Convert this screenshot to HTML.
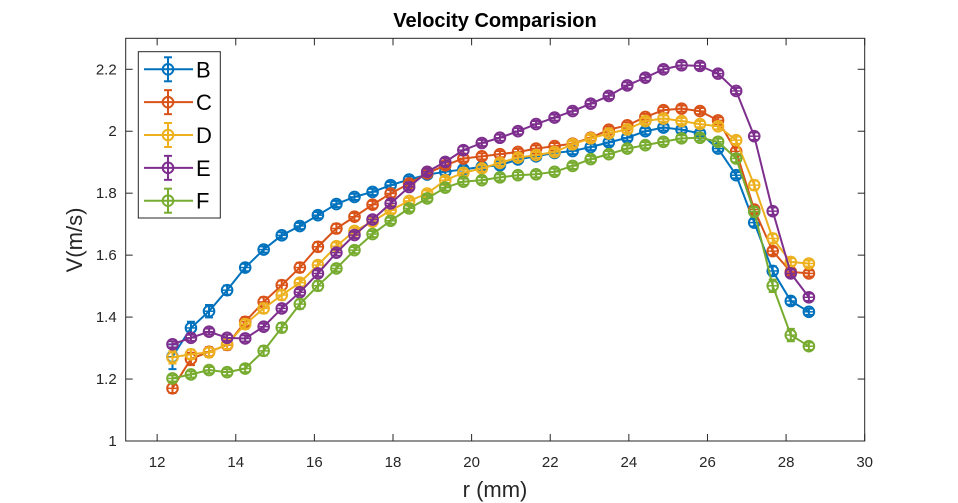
<!DOCTYPE html>
<html><head><meta charset="utf-8"><style>
html,body{margin:0;padding:0;background:#fff;}
svg{display:block;font-family:"Liberation Sans",Arial,sans-serif;}
</style></head><body>
<svg id="chart" width="958" height="503" viewBox="0 0 958 503" xmlns="http://www.w3.org/2000/svg">
<rect x="0" y="0" width="958" height="503" fill="#fff"/>
<text x="495" y="27" text-anchor="middle" font-size="20" font-weight="bold" fill="#000">Velocity Comparision</text>
<text x="495" y="497" text-anchor="middle" font-size="22" fill="#262626">r (mm)</text>
<text transform="translate(82,240) rotate(-90)" text-anchor="middle" font-size="22" fill="#262626">V(m/s)</text>
<g id="grid"></g>
<g id="series"></g>
<g id="legend"></g>
</svg>
<script>
const xMin = 11.2, xMax = 30, yMin = 1, yMax = 2.3;
const xTicks = [12,14,16,18,20,22,24,26,28,30];
const yTicks = [1,1.2,1.4,1.6,1.8,2,2.2];
const yTickLabels = ["1","1.2","1.4","1.6","1.8","2","2.2"];
const seriesNames = ["B","C","D","E","F"];
const seriesColors = ["#0072BD","#D95319","#EDB120","#7E2F8E","#77AC30"];
const rValues = [12.39,12.86,13.32,13.78,14.24,14.71,15.17,15.63,16.09,16.56,17.02,17.48,17.94,18.41,18.87,19.33,19.79,20.26,20.72,21.18,21.64,22.11,22.57,23.03,23.49,23.96,24.42,24.88,25.34,25.81,26.27,26.73,27.19,27.66,28.12,28.58];
const seriesB = [1.272,1.365,1.419,1.487,1.560,1.618,1.664,1.694,1.729,1.765,1.788,1.804,1.826,1.844,1.860,1.869,1.877,1.885,1.890,1.909,1.919,1.930,1.936,1.949,1.964,1.979,2.000,2.012,2.005,1.993,1.944,1.858,1.705,1.549,1.452,1.417];
const seriesC = [1.170,1.265,1.288,1.310,1.385,1.449,1.503,1.560,1.627,1.686,1.724,1.763,1.799,1.831,1.864,1.890,1.912,1.919,1.926,1.933,1.944,1.952,1.960,1.979,2.005,2.019,2.046,2.068,2.073,2.065,2.035,1.935,1.747,1.613,1.546,1.541];
const seriesD = [1.270,1.280,1.286,1.312,1.377,1.428,1.471,1.511,1.568,1.629,1.678,1.708,1.745,1.775,1.799,1.842,1.866,1.880,1.898,1.915,1.923,1.933,1.958,1.977,1.993,2.006,2.033,2.041,2.033,2.023,2.016,1.971,1.826,1.654,1.578,1.573];
const seriesE = [1.312,1.333,1.353,1.333,1.331,1.369,1.428,1.480,1.541,1.608,1.665,1.715,1.767,1.820,1.869,1.901,1.939,1.962,1.979,2.000,2.023,2.044,2.065,2.089,2.114,2.148,2.173,2.200,2.213,2.211,2.186,2.130,1.984,1.742,1.541,1.464];
const seriesF = [1.202,1.215,1.229,1.222,1.234,1.291,1.366,1.442,1.501,1.557,1.616,1.668,1.711,1.751,1.783,1.818,1.837,1.842,1.851,1.858,1.861,1.869,1.888,1.910,1.926,1.944,1.955,1.966,1.977,1.979,1.966,1.912,1.740,1.501,1.342,1.306];
const errB = [0.04,0.02,0.02,0.015,0.012,0.01,0.01,0.01,0.01,0.01,0.01,0.01,0.01,0.01,0.01,0.01,0.01,0.01,0.01,0.01,0.01,0.01,0.01,0.01,0.01,0.01,0.01,0.01,0.01,0.01,0.01,0.01,0.012,0.015,0.012,0.01];
const errC = [0.015,0.02,0.015,0.015,0.015,0.015,0.015,0.015,0.015,0.015,0.012,0.012,0.012,0.01,0.01,0.01,0.01,0.01,0.01,0.01,0.01,0.01,0.01,0.01,0.01,0.01,0.01,0.01,0.01,0.01,0.01,0.012,0.012,0.012,0.01,0.01];
const errD = [0.02,0.015,0.015,0.015,0.015,0.015,0.015,0.012,0.012,0.012,0.01,0.01,0.01,0.01,0.01,0.01,0.01,0.01,0.01,0.01,0.01,0.01,0.01,0.01,0.01,0.01,0.01,0.01,0.01,0.01,0.01,0.012,0.015,0.015,0.012,0.01];
const errE = [0.01,0.01,0.01,0.01,0.01,0.01,0.01,0.01,0.01,0.01,0.01,0.01,0.01,0.01,0.01,0.012,0.012,0.01,0.01,0.01,0.01,0.01,0.01,0.01,0.01,0.01,0.01,0.01,0.01,0.01,0.01,0.01,0.012,0.012,0.012,0.012];
const errF = [0.01,0.01,0.01,0.01,0.012,0.015,0.015,0.015,0.015,0.01,0.01,0.01,0.01,0.01,0.01,0.01,0.01,0.01,0.01,0.01,0.01,0.01,0.01,0.01,0.01,0.01,0.01,0.01,0.01,0.01,0.01,0.012,0.015,0.02,0.02,0.012];

const PL = 125.7, PR = 864.7, PT = 38.3, PB = 441;
function xs(v){ return PL + (v - xMin) / (xMax - xMin) * (PR - PL); }
function ys(v){ return PB - (v - yMin) / (yMax - yMin) * (PB - PT); }
const NS = "http://www.w3.org/2000/svg";
function mk(tag, attrs, parent){ const e = document.createElementNS(NS, tag); for (const k in attrs) e.setAttribute(k, attrs[k]); parent.appendChild(e); return e; }

const grid = document.getElementById('grid');
const box = mk('rect', {x:PL, y:PT, width:PR-PL, height:PB-PT, fill:'none', stroke:'#262626', 'stroke-width':1}, grid);


xTicks.forEach(t => {
  const x = xs(t);
  mk('line', {x1:x, x2:x, y1:PB, y2:PB-7, stroke:'#262626'}, grid);
  mk('line', {x1:x, x2:x, y1:PT, y2:PT+7, stroke:'#262626'}, grid);
  const lbl = mk('text', {x:x, y:PB+26, 'text-anchor':'middle', 'font-size':15, fill:'#262626'}, grid);
  lbl.textContent = t;
  
  
});
yTicks.forEach((t, i) => {
  const y = ys(t);
  mk('line', {x1:PL, x2:PL+7, y1:y, y2:y, stroke:'#262626'}, grid);
  mk('line', {x1:PR, x2:PR-7, y1:y, y2:y, stroke:'#262626'}, grid);
  const lbl = mk('text', {x:PL-9, y:y+5, 'text-anchor':'end', 'font-size':15, fill:'#262626'}, grid);
  lbl.textContent = yTickLabels[i];
  
  
});

const allSeries = [seriesB, seriesC, seriesD, seriesE, seriesF];
const allErr = [errB, errC, errD, errE, errF];
const sg = document.getElementById('series');
function marker(g, cx, cy, col, err){
  const eh = Math.max(err * (PB - PT) / (yMax - yMin), 0);
  mk('line', {x1:cx, x2:cx, y1:cy-eh, y2:cy+eh, stroke:col, 'stroke-width':2}, g);
  mk('line', {x1:cx-4, x2:cx+4, y1:cy-eh, y2:cy-eh, stroke:col, 'stroke-width':2}, g);
  mk('line', {x1:cx-4, x2:cx+4, y1:cy+eh, y2:cy+eh, stroke:col, 'stroke-width':2}, g);
  mk('line', {x1:cx-5, x2:cx+5, y1:cy, y2:cy, stroke:col, 'stroke-width':1.5}, g);
  mk('circle', {cx:cx, cy:cy, r:5.3, fill:'none', stroke:col, 'stroke-width':2}, g);
}
allSeries.forEach((vals, si) => {
  const col = seriesColors[si];
  const g = mk('g', {}, sg);
  
  
  const pts = vals.map((v, i) => xs(rValues[i]).toFixed(2) + ',' + ys(v).toFixed(2)).join(' ');
  const line = mk('polyline', {points:pts, fill:'none', stroke:col, 'stroke-width':2, 'stroke-linejoin':'round'}, g);
  
  
  vals.forEach((v, i) => marker(g, xs(rValues[i]), ys(v), col, allErr[si][i]));
});

const lg = document.getElementById('legend');
const lbox = mk('rect', {x:138.3, y:51.7, width:82, height:166.3, fill:'#fff', stroke:'#262626', 'stroke-width':1}, lg);


seriesNames.forEach((n, i) => {
  const y = 69.3 + i * 32.85;
  const col = seriesColors[i];
  const eg = mk('g', {}, lg);
  
  
  mk('line', {x1:144, x2:193, y1:y, y2:y, stroke:col, 'stroke-width':2}, eg);
  mk('line', {x1:168, x2:168, y1:y-12, y2:y+12, stroke:col, 'stroke-width':2}, eg);
  mk('line', {x1:164, x2:172, y1:y-12, y2:y-12, stroke:col, 'stroke-width':2}, eg);
  mk('line', {x1:164, x2:172, y1:y+12, y2:y+12, stroke:col, 'stroke-width':2}, eg);
  mk('circle', {cx:168, cy:y, r:5.3, fill:'none', stroke:col, 'stroke-width':2}, eg);
  const t = mk('text', {x:196, y:y+8, 'font-size':22, fill:'#000'}, eg);
  t.textContent = n;
});
</script>
</body></html>
